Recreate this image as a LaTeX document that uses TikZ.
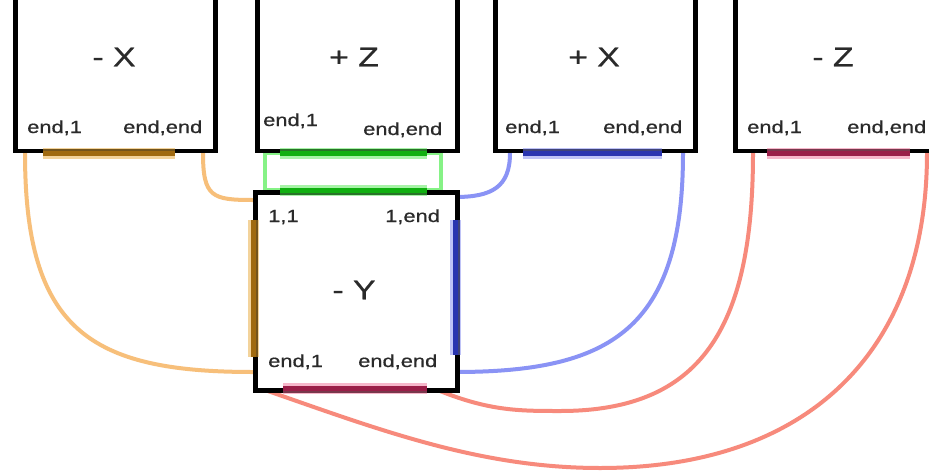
\documentclass[tikz,border=0pt]{standalone}
\usepackage{fontspec}
\newfontfamily\lab[FakeStretch=1.25,FakeBold=0.6]{Liberation Sans}
\definecolor{txt}{HTML}{2A2A2A}
\definecolor{orC}{HTML}{F7BF7A}
\definecolor{blC}{HTML}{8A93F5}
\definecolor{rdC}{HTML}{F78A7C}
\definecolor{grL}{HTML}{86F286}
\definecolor{orD}{HTML}{A06A10}
\definecolor{orH}{HTML}{E8A838}
\definecolor{grD}{HTML}{10B010}
\definecolor{grH}{HTML}{50E850}
\definecolor{blD}{HTML}{2A35B0}
\definecolor{blH}{HTML}{8088F0}
\definecolor{rdD}{HTML}{9A1E48}
\definecolor{rdH}{HTML}{F07098}
\begin{document}
\begin{tikzpicture}[x=1pt,y=-1pt,
  box/.style={draw=black, line width=4.5pt, fill=white, minimum width=200pt, inner sep=0pt},
  small/.style={font=\lab\fontsize{17.5}{20}\selectfont, text=txt, inner sep=0pt, anchor=base west},
  big/.style={font=\lab\fontsize{27}{30}\selectfont, text=txt, inner sep=0pt},
  conn/.style={line width=4pt},
  haloS/.style={line width=11pt, opacity=0.5},
  coreS/.style={line width=5pt}]
\useasboundingbox (0,0) rectangle (929,474);
\clip (0,0) rectangle (929,474);
\fill[white] (0,0) rectangle (929,474);

% connector end points
\coordinate (oA1) at (25,153);  \coordinate (oA2) at (253,372);
\coordinate (oB1) at (203,153); \coordinate (oB2) at (253,200);
\coordinate (bA1) at (510,153); \coordinate (bA2) at (455,197);
\coordinate (bB1) at (683,153); \coordinate (bB2) at (455,372);
\coordinate (rA1) at (753,153); \coordinate (rA2) at (440,391); \coordinate (rAm) at (560,411);
\coordinate (rB1) at (927,153); \coordinate (rB2) at (265,390); \coordinate (rBm) at (600,468);

% connectors
\draw[conn, orC] (oA1) .. controls (25,330) and (90,372) .. (oA2);
\draw[conn, orC] (oB1) .. controls (203,197) and (212,200) .. (oB2);
\draw[conn, blC] (bA1) .. controls (510,187) and (492,197) .. (bA2);
\draw[conn, blC] (bB1) .. controls (683,330) and (610,372) .. (bB2);
\draw[conn, rdC] (rA2) .. controls (490,411) and (520,411) .. (rAm)
                       .. controls (700,411) and (753,330) .. (rA1);
\draw[conn, rdC] (rB2) .. controls (380,430) and (480,468) .. (rBm)
                       .. controls (810,468) and (927,350) .. (rB1);
\draw[line width=3.5pt, grL] (265,153) rectangle (441,190);

% boxes
\node[box, minimum height=200pt, anchor=south west] (mX) at (13,153) {};
\node[box, minimum height=200pt, anchor=south west] (pZ) at (255,153) {};
\node[box, minimum height=200pt, anchor=south west] (pX) at (493,153) {};
\node[box, minimum height=200pt, anchor=south west] (mZ) at (733,153) {};
\node[box, minimum width=202pt, minimum height=198pt, anchor=north west] (mY) at (253,190) {};

% highlighted edges
\foreach \a/\b/\c/\d/\h/\k in {43/153/175/153/orH/orD, 280/153/427/153/grH/grD,
    280/190/427/190/grH/grD, 523/153/662/153/blH/blD, 767/153/910/153/rdH/rdD,
    253/220/253/357/orH/orD, 455/220/455/355/blH/blD, 283/388/427/388/rdH/rdD}{
  \draw[haloS, \h] (\a,\b) -- (\c,\d);
  \draw[coreS, \k] (\a,\b) -- (\c,\d);
}

% titles
\node[big] (tmX) at (114,57) {- X};
\node[big] (tpZ) at (354,57) {+ Z};
\node[big] (tpX) at (594,57) {+ X};
\node[big] (tmZ) at (833,57) {- Z};
\node[big] (tmY) at (354,290) {- Y};

% corner labels
\node[small] (mX1) at (27,133) {end,1};
\node[small] (mX2) at (123,133) {end,end};
\node[small] (pZ1) at (263,126) {end,1};
\node[small] (pZ2) at (363,135) {end,end};
\node[small] (pX1) at (505,133) {end,1};
\node[small] (pX2) at (603,133) {end,end};
\node[small] (mZ1) at (747,133) {end,1};
\node[small] (mZ2) at (847,133) {end,end};
\node[small] (mY1) at (268,222) {1,1};
\node[small] (mY2) at (385,222) {1,end};
\node[small] (mY3) at (268,367) {end,1};
\node[small] (mY4) at (358,367) {end,end};
\end{tikzpicture}
\end{document}
